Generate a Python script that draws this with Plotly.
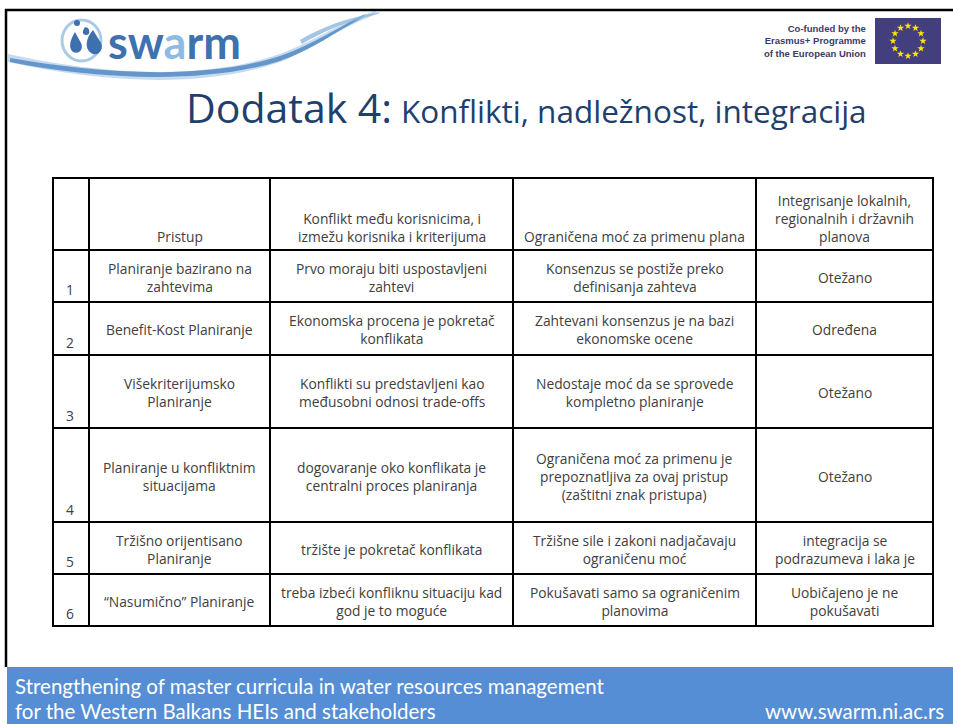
import math
import plotly.graph_objects as go

# ---------------- data ----------------
title_main = "Dodatak 4:"
title_sub = "Konflikti, nadležnost, integracija"

header_texts = [
    "",
    "Pristup",
    "Konflikt među korisnicima, i<br>izmežu korisnika i kriterijuma",
    "Ograničena moć za primenu plana",
    "Integrisanje lokalnih,<br>regionalnih i državnih<br>planova",
]
row_numbers = ["1", "2", "3", "4", "5", "6"]
pristup = [
    "Planiranje bazirano na<br>zahtevima",
    "Benefit-Kost Planiranje",
    "Višekriterijumsko<br>Planiranje",
    "Planiranje u konfliktnim<br>situacijama",
    "Tržišno orijentisano<br>Planiranje",
    "“Nasumično” Planiranje",
]
konflikt = [
    "Prvo moraju biti uspostavljeni<br>zahtevi",
    "Ekonomska procena je pokretač<br>konflikata",
    "Konflikti su predstavljeni kao<br>međusobni odnosi trade-offs",
    "dogovaranje oko konflikata je<br>centralni proces planiranja",
    "tržište je pokretač konflikata",
    "treba izbeći konfliknu situaciju kad<br>god je to moguće",
]
moc = [
    "Konsenzus se postiže preko<br>definisanja zahteva",
    "Zahtevani konsenzus je na bazi<br>ekonomske ocene",
    "Nedostaje moć da se sprovede<br>kompletno planiranje",
    "Ograničena moć za primenu je<br>prepoznatljiva za ovaj pristup<br>(zaštitni znak pristupa)",
    "Tržišne sile i zakoni nadjačavaju<br>ograničenu moć",
    "Pokušavati samo sa ograničenim<br>planovima",
]
integracija = [
    "Otežano",
    "Određena",
    "Otežano",
    "Otežano",
    "integracija se<br>podrazumeva i laka je",
    "Uobičajeno je ne<br>pokušavati",
]
eu_text = "Co-funded by the<br>Erasmus+ Programme<br>of the European Union"
footer_line1 = "Strengthening of master curricula in water resources management"
footer_line2 = "for the Western Balkans HEIs and stakeholders"
footer_url = "www.swarm.ni.ac.rs"

# ---------------- layout constants ----------------
W, H = 953, 724
col_edges = [53, 89, 270, 513, 756, 933]
row_edges = [178, 250, 302, 355, 428, 522, 574, 626]
FONT = "Open Sans, sans-serif"
FOOT_FONT = "Lato, sans-serif"
TXT = "#404040"
TITLE_C = "#1F3F6E"
TS = 13.8

fig = go.Figure()
shapes = []
ann = []

# slide frame
shapes.append(dict(type="line", x0=5, x1=W + 2, y0=10, y1=10, line=dict(color="black", width=2.5)))
shapes.append(dict(type="line", x0=6, x1=6, y0=9, y1=667, line=dict(color="black", width=2.5)))

# footer
shapes.append(dict(type="rect", x0=7, x1=W + 2, y0=667, y1=H + 2, fillcolor="#558ED5", line=dict(width=0)))
ann.append(dict(x=13, y=686, text=footer_line1, xanchor="left", yanchor="middle", showarrow=False,
                font=dict(family=FOOT_FONT, size=20.5, color="white")))
ann.append(dict(x=13, y=711, text=footer_line2, xanchor="left", yanchor="middle", showarrow=False,
                font=dict(family=FOOT_FONT, size=20.5, color="white")))
ann.append(dict(x=946, y=711, text=footer_url, xanchor="right", yanchor="middle", showarrow=False,
                font=dict(family=FOOT_FONT, size=20.5, color="white")))

# title
ann.append(dict(x=394, y=107, text=title_main, xanchor="right", yanchor="middle", showarrow=False,
                font=dict(family=FONT, size=41, color=TITLE_C)))
ann.append(dict(x=399, y=110, text=title_sub, xanchor="left", yanchor="middle", showarrow=False,
                font=dict(family=FONT, size=31.5, color=TITLE_C)))

# ---------- swarm logo ----------
shapes.append(dict(type="path",
                   path="M 8,54 C 90,72 200,84 285,52 C 320,38 345,20 378,10 L 372,16 C 340,28 318,46 285,60 C 200,92 90,80 8,62 Z",
                   fillcolor="#BFD7EE", line=dict(width=0), opacity=0.9, layer="below"))
shapes.append(dict(type="path",
                   path="M 10,58 C 90,72 200,82 280,56 C 315,44 340,26 365,14 L 362,18 C 335,32 312,50 280,61 C 200,86 90,78 10,62 Z",
                   fillcolor="#5A8EC6", line=dict(width=0), opacity=0.9, layer="below"))
shapes.append(dict(type="path",
                   path="M 300,40 C 320,28 345,18 380,12 L 378,14 C 345,22 322,32 302,44 Z",
                   fillcolor="#8DB6DE", line=dict(width=0), opacity=0.8, layer="below"))
shapes.append(dict(type="circle", x0=62, x1=101, y0=20, y1=61, line=dict(color="#A9CBE8", width=3)))
shapes.append(dict(type="circle", x0=74, x1=80, y0=20, y1=26, fillcolor="#3E70AE", line=dict(width=0)))
shapes.append(dict(type="path", path="M 93,30 C 86,38 84,48 91,53 C 98,57 104,50 101,43 Z",
                   fillcolor="#3E70AE", line=dict(width=0)))
shapes.append(dict(type="path", path="M 75,32 C 70,40 68,48 73,52 C 79,55 84,49 81,43 Z",
                   fillcolor="#3E70AE", line=dict(width=0)))
shapes.append(dict(type="path", path="M 85,27 C 82,31 82,35 86,35 C 90,35 90,31 88,28 Z",
                   fillcolor="#3E70AE", line=dict(width=0)))
ann.append(dict(x=106, y=42, text="<b>sw<span style='color:#8DBBE4'>a</span>rm</b>", xanchor="left",
                yanchor="middle", showarrow=False, font=dict(family="Lato, sans-serif", size=45, color="#3F71AF")))

# ---------- EU block ----------
shapes.append(dict(type="rect", x0=875, x1=941, y0=18, y1=64, fillcolor="#433E7E", line=dict(width=0),
                   layer="below"))
cx, cy, r = 908, 41, 15
star_x = [cx + r * math.cos(2 * math.pi * k / 12) for k in range(12)]
star_y = [cy + r * math.sin(2 * math.pi * k / 12) for k in range(12)]
fig.add_trace(go.Scatter(x=star_x, y=star_y, mode="markers", hoverinfo="skip",
                         marker=dict(symbol="star", size=5.5, color="#FFE600", line=dict(width=0))))
ann.append(dict(x=868, y=41, text=eu_text, xanchor="right", yanchor="middle", align="right", showarrow=False,
                font=dict(family="Liberation Sans, Arial, sans-serif", size=9.5, color="#3B3A6A",
                          weight="bold")))

# ---------- table ----------
for y in row_edges:
    shapes.append(dict(type="line", x0=col_edges[0] - 1, x1=col_edges[-1] + 1, y0=y, y1=y,
                       line=dict(color="black", width=2)))
for x in col_edges:
    shapes.append(dict(type="line", x0=x, x1=x, y0=row_edges[0] - 1, y1=row_edges[-1] + 1,
                       line=dict(color="black", width=2)))

# header cells (bottom aligned)
for j, t in enumerate(header_texts):
    if not t:
        continue
    xc = (col_edges[j] + col_edges[j + 1]) / 2
    ann.append(dict(x=xc, y=row_edges[1] - 2, text=t, xanchor="center", yanchor="bottom", align="center",
                    showarrow=False, font=dict(family=FONT, size=TS, color=TXT)))

# body cells
columns = [pristup, konflikt, moc, integracija]
for i in range(len(row_numbers)):
    y0, y1 = row_edges[i + 1], row_edges[i + 2]
    ann.append(dict(x=(col_edges[0] + col_edges[1]) / 2 - 1, y=y1 - 1, text=row_numbers[i], xanchor="center",
                    yanchor="bottom", showarrow=False, font=dict(family=FONT, size=TS, color=TXT)))
    for j, col in enumerate(columns):
        xc = (col_edges[j + 1] + col_edges[j + 2]) / 2
        ann.append(dict(x=xc, y=(y0 + y1) / 2 + 1, text=col[i], xanchor="center", yanchor="middle",
                        align="center", showarrow=False, font=dict(family=FONT, size=TS, color=TXT)))

fig.update_layout(
    width=W, height=H,
    margin=dict(l=0, r=0, t=0, b=0),
    paper_bgcolor="white", plot_bgcolor="white",
    showlegend=False,
    xaxis=dict(range=[0, W], visible=False, fixedrange=True),
    yaxis=dict(range=[H, 0], visible=False, fixedrange=True),
    shapes=shapes,
    annotations=ann,
)
fig.write_html("out.html", config={"displayModeBar": False},
               post_script="document.body.style.margin='0';document.body.style.overflow='hidden';")
